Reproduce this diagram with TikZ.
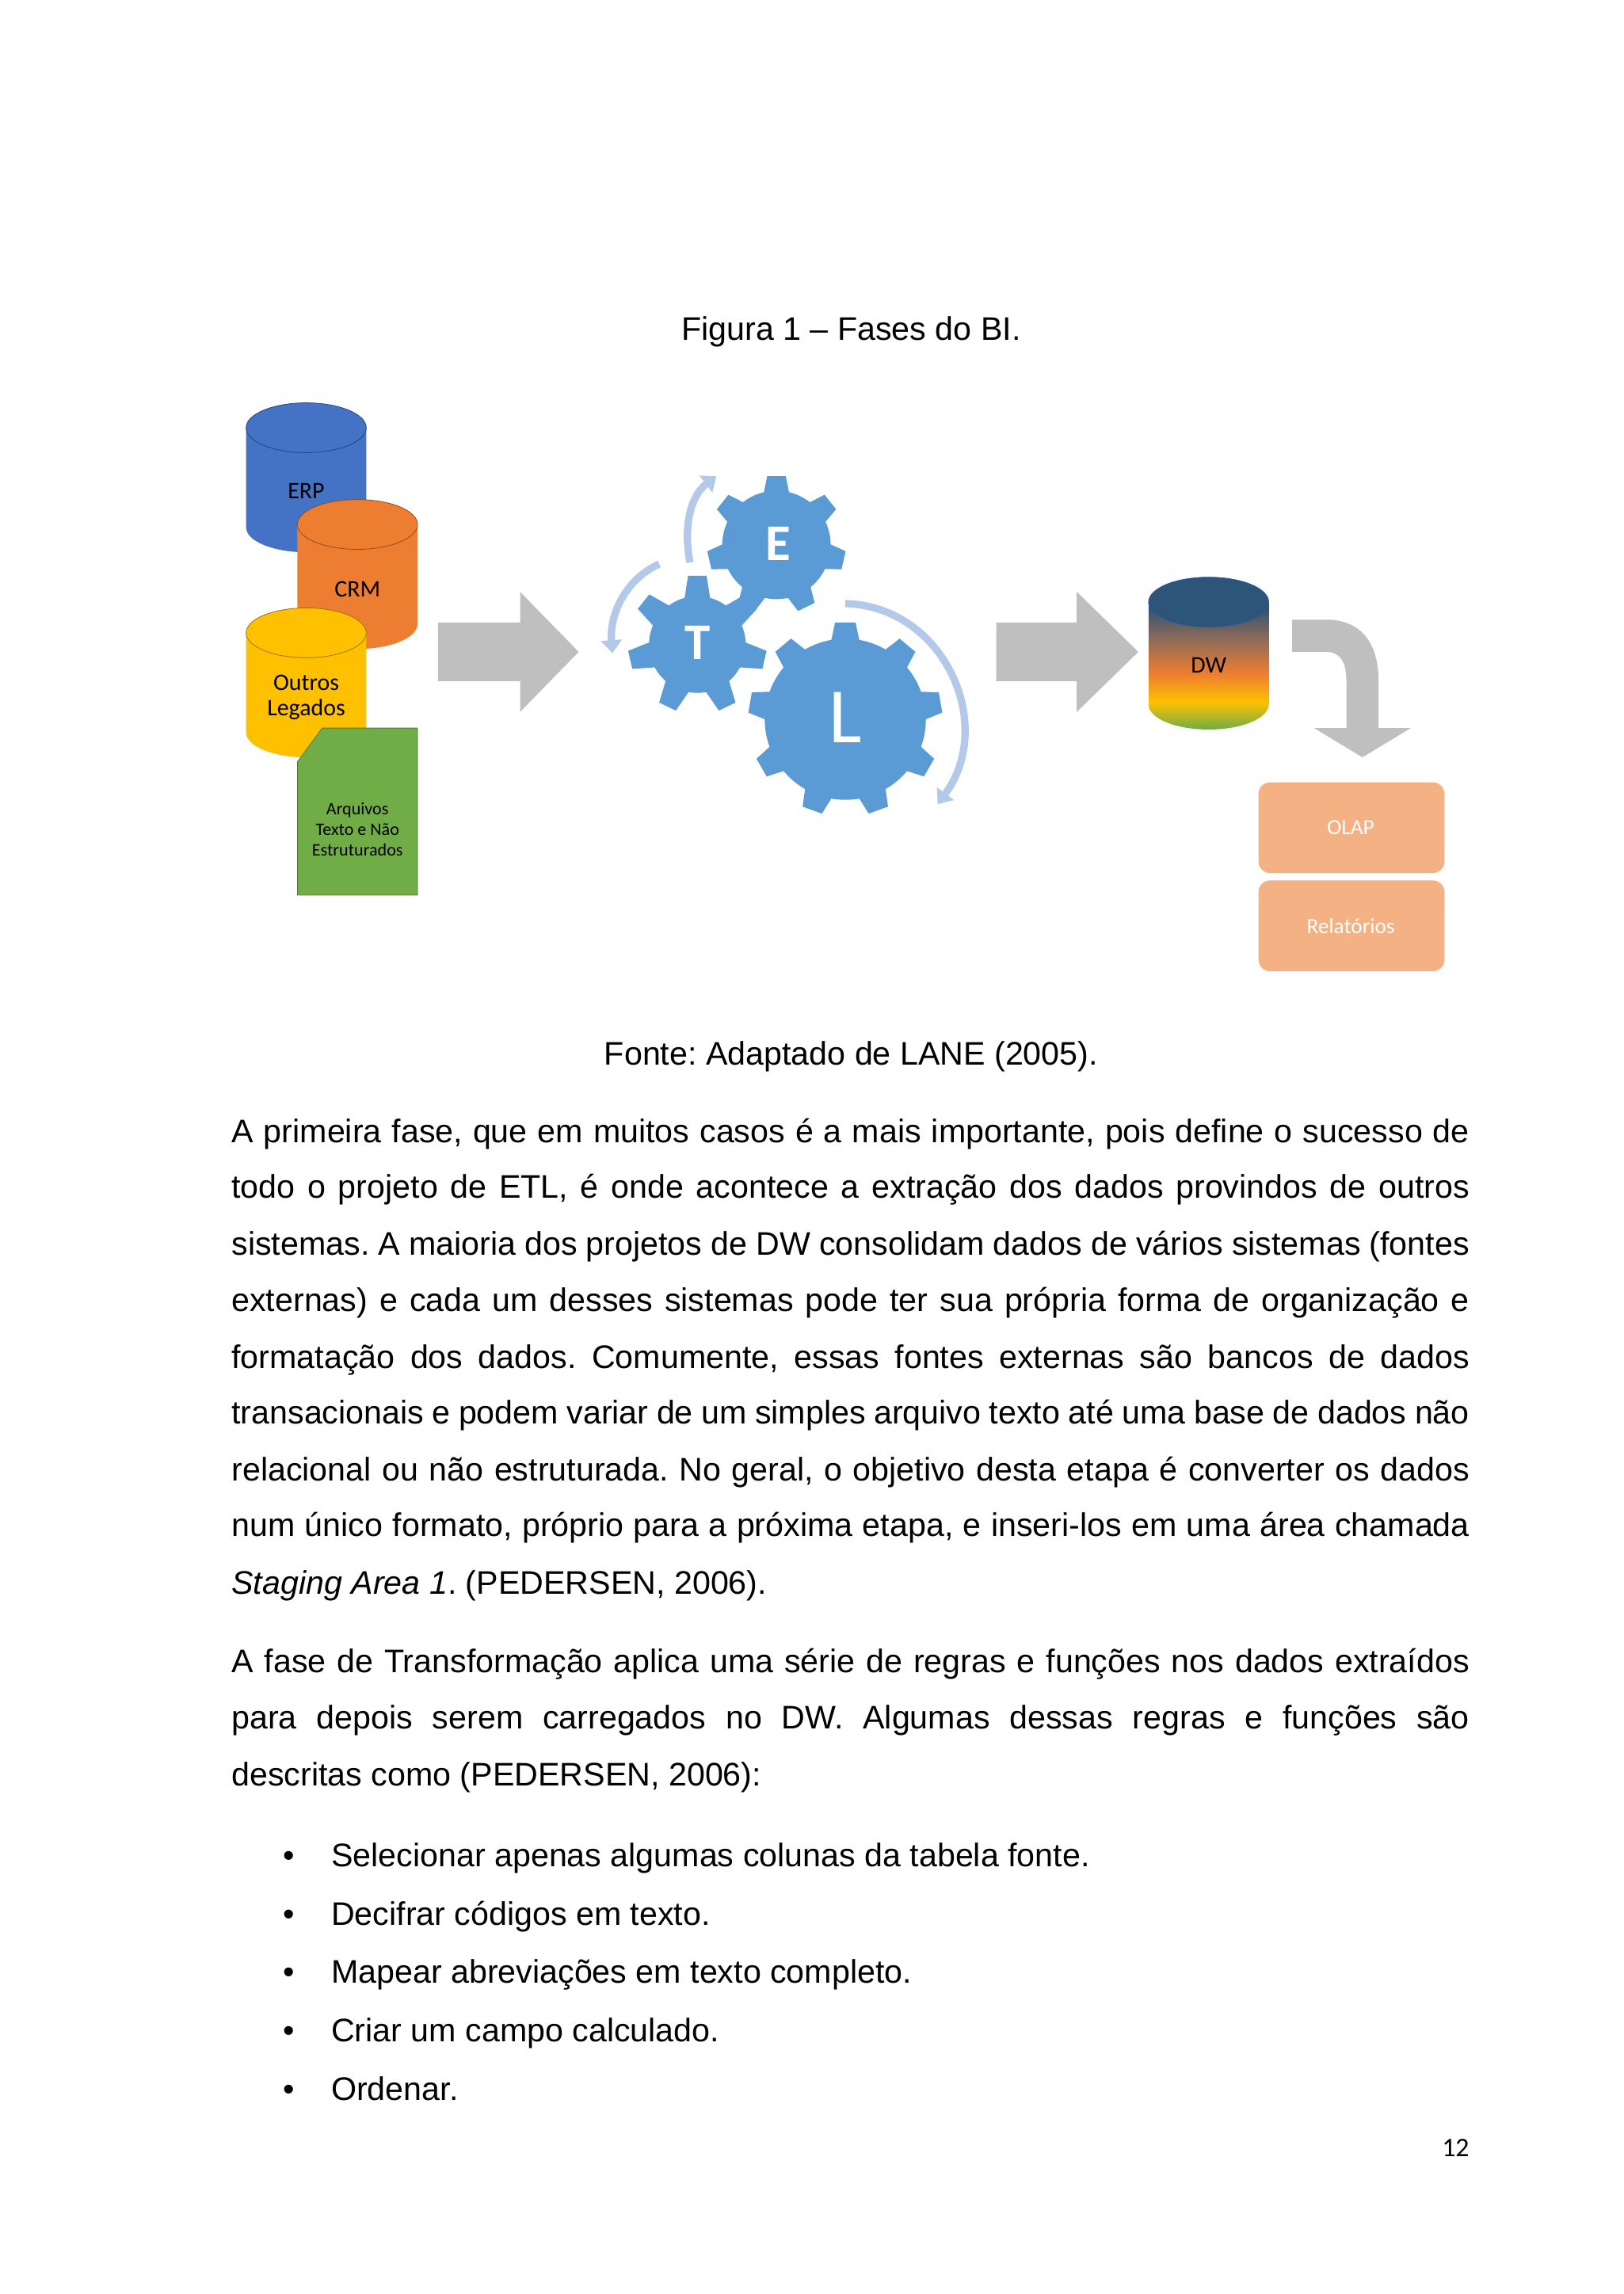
\documentclass[tikz,border=0pt]{standalone}
\usepackage{fontspec}
\setmainfont{Liberation Sans}
\newfontfamily\calfont{Carlito}
\frenchspacing
\usetikzlibrary{arrows.meta,shapes.geometric,calc}
\definecolor{gearblue}{HTML}{5B9BD5}
\definecolor{arcblue}{HTML}{B4C9EA}
\definecolor{arrowgray}{HTML}{BFBFBF}
\definecolor{boxor}{HTML}{F4B183}
\definecolor{erpc}{HTML}{4472C4}
\definecolor{crmc}{HTML}{ED7D31}
\definecolor{outc}{HTML}{FFC000}
\definecolor{grnc}{HTML}{70AD47}
\definecolor{dwtop}{HTML}{1F4E79}
\definecolor{dwmid}{HTML}{8B6A58}
\definecolor{dwedge}{HTML}{2F5597}
\tikzset{
  body/.style={anchor=base west,inner sep=0pt,font=\fontsize{31.7}{38}\selectfont},
  lab/.style={font=\calfont\fontsize{23}{27}\selectfont,align=center},
  gearc/.style={fill=gearblue},
  arcarrow/.style={draw=arcblue,line width=0.25cm,-{Triangle[length=0.45cm,width=0.7cm]}},
  grayarrow/.style={fill=arrowgray},
  box/.style={fill=boxor,rounded corners=0.4cm,draw=none},
}
\newcommand{\cyl}[5]{% x1 x2 ytop ybot color
  \fill[#5] (#1,#3+17) -- (#1,#4-17) arc[start angle=180,end angle=360,x radius={(#2-#1)/2*0.05cm},y radius=0.85cm] -- (#2,#3+17) -- cycle;
  \fill[#5] ({(#1+#2)/2},#3+17) ellipse[x radius={(#2-#1)/2*0.05cm},y radius=0.85cm];
  \draw[black!40!#5,line width=0.6pt] ({(#1+#2)/2},#3+17) ellipse[x radius={(#2-#1)/2*0.05cm},y radius=0.85cm];
}
\newcommand{\gear}[6]{% cx cy r R n halfwidth
  \fill[gearc] (#1,#2) circle[radius=#3*0.05cm];
  \foreach \k in {1,...,#5}{
    \fill[gearc,rotate around={\k*360/#5:(#1,#2)}] (#1-#6,#2-#3+3) -- (#1-#6*0.7,#2-#4) -- (#1+#6*0.7,#2-#4) -- (#1+#6,#2-#3+3) -- cycle;}
}
\begin{document}
\begin{tikzpicture}[x=0.05cm,y=-0.05cm]
\useasboundingbox[fill=white] (0,0) rectangle (1108,1566);
\node[anchor=base,inner sep=0pt,font=\fontsize{31.7}{38}\selectfont] (cap) at (581,232) {Figura 1 -- Fases do BI.};
% cylinders
\cyl{168}{250}{275}{377}{erpc}
\node[lab] (erp) at (209,335) {ERP};
\cyl{203}{285}{341}{443}{crmc}
\node[lab] (crm) at (244,402) {CRM};
\cyl{168}{250}{415}{517}{outc}
\node[lab] (out) at (209,476) {Outros\\[-3pt]Legados};
\fill[grnc] (220,497) -- (285,497) -- (285,611) -- (203,611) -- (203,520) -- cycle;
\draw[grnc!70!black,line width=0.6pt] (220,497) -- (285,497) -- (285,611) -- (203,611) -- (203,520) -- cycle;
\node[lab,font=\calfont\fontsize{17}{20}\selectfont] (arq) at (244,566) {Arquivos\\Texto e Não\\Estruturados};
% arrows
\fill[grayarrow] (299,425) -- (355,425) -- (355,404) -- (395,445) -- (355,486) -- (355,465) -- (299,465) -- cycle;
\fill[grayarrow] (680,425) -- (735,425) -- (735,404) -- (777,445) -- (735,486) -- (735,465) -- (680,465) -- cycle;
% gears
\gear{530}{372}{37}{47}{7}{9}
\node[font=\calfont\bfseries\fontsize{50}{50}\selectfont,text=white] (E) at (531,371) {E};
\gear{476}{440}{33}{47}{7}{9}
\node[font=\calfont\bfseries\fontsize{50}{50}\selectfont,text=white] (T) at (476,439) {T};
\gear{577}{491}{55}{66}{9}{10}
\node[font=\calfont\fontsize{76}{76}\selectfont,text=white] (L) at (577,490) {L};
\draw[arcarrow] (471,384) .. controls (466,358) and (472,338) .. (489,325);
\draw[arcarrow] (450,385) .. controls (428,395) and (416,418) .. (418,446);
\draw[arcarrow] (577,412) .. controls (645,414) and (680,495) .. (640,549);
% DW
\shade[top color=dwtop,bottom color=crmc,middle color=dwmid] (784,411) -- (784,460) -- (866,460) -- (866,411) -- cycle;
\fill[dwtop!85!gray] (825,411) ellipse[x radius=2.05cm,y radius=0.85cm];
\shade[top color=crmc,bottom color=grnc,middle color=outc] (784,460) -- (784,481) arc[start angle=180,end angle=360,x radius=2.05cm,y radius=0.85cm] -- (866,460) -- cycle;
\draw[dwedge,line width=0.6pt] (825,411) ellipse[x radius=2.05cm,y radius=0.85cm];
\node[lab] (dw) at (825,454) {DW};
% bent arrow
\fill[grayarrow] (882,423) -- (905,423) .. controls (930,423) and (941,440) .. (941,465) -- (941,497) -- (963,497) -- (930,517) -- (897,497) -- (919,497) -- (919,465) .. controls (919,452) and (915,445) .. (905,445) -- (882,445) -- cycle;
% boxes
\fill[box] (859,534) rectangle (986,596);
\node[lab,text=white,font=\calfont\fontsize{21}{25}\selectfont] (olap) at (922,565) {OLAP};
\fill[box] (859,601) rectangle (986,663);
\node[lab,text=white,font=\calfont\fontsize{21}{25}\selectfont] (rel) at (922,632) {Relatórios};
\node[anchor=base,inner sep=0pt,font=\fontsize{31.7}{38}\selectfont] (fonte) at (581,727) {Fonte: Adaptado de LANE (2005).};
% paragraphs
\foreach \y/\t in {
780/{A primeira fase, que em muitos casos é a mais importante, pois define o sucesso de},
818/{todo o projeto de ETL, é onde acontece a extração dos dados provindos de outros},
857/{sistemas. A maioria dos projetos de DW consolidam dados de vários sistemas (fontes},
895/{externas) e cada um desses sistemas pode ter sua própria forma de organização e},
934/{formatação dos dados. Comumente, essas fontes externas são bancos de dados},
972/{transacionais e podem variar de um simples arquivo texto até uma base de dados não},
1011/{relacional ou não estruturada. No geral, o objetivo desta etapa é converter os dados},
1049/{num único formato, próprio para a próxima etapa, e inseri-los em uma área chamada},
1142/{A fase de Transformação aplica uma série de regras e funções nos dados extraídos},
1180/{para depois serem carregados no DW. Algumas dessas regras e funções são}}
  \node[body] at (158,\y) {\makebox[42.25cm][s]{\t}};
\node[body] (p1) at (158,1088) {\textit{Staging Area 1}. (PEDERSEN, 2006).};
\node[body] (p2) at (158,1219) {descritas como (PEDERSEN, 2006):};
\foreach \y/\t in {1274/{Selecionar apenas algumas colunas da tabela fonte.},1314/{Decifrar códigos em texto.},1354/{Mapear abreviações em texto completo.},1394/{Criar um campo calculado.},1434/{Ordenar.}}{
  \node[body] at (193,\y) {\textbullet};
  \node[body] at (226,\y) {\t};}
\node[anchor=base east,inner sep=0pt,font=\calfont\fontsize{26}{30}\selectfont] (pg) at (1003,1472) {12};
\end{tikzpicture}
\end{document}
